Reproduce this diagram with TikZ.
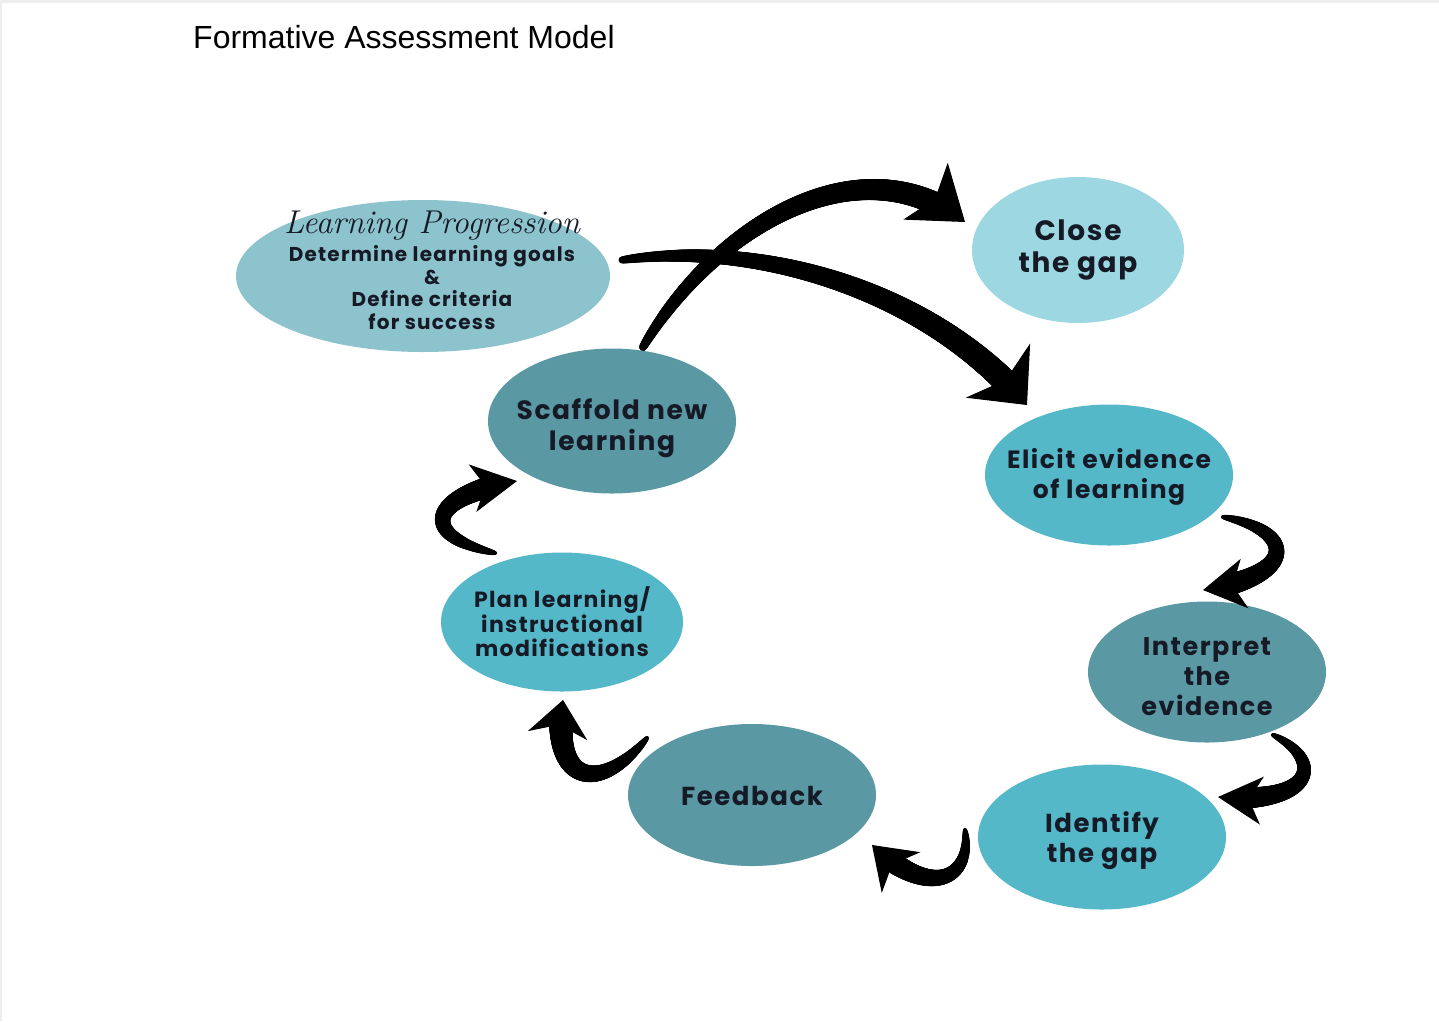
\documentclass[tikz,border=0pt]{standalone}
\usepackage{fontspec}
\newfontfamily\pop[LetterSpace=6]{Poppins}
\newfontfamily\ars{Liberation Sans}
\usetikzlibrary{shapes.geometric,decorations.markings,arrows.meta}
\definecolor{lpc}{HTML}{8DC3CC}
\definecolor{clc}{HTML}{9DD8E2}
\definecolor{dkc}{HTML}{5A98A3}
\definecolor{mdc}{HTML}{55B8C8}
\definecolor{txc}{HTML}{151A26}
\definecolor{edgec}{HTML}{EEEEEE}
\tikzset{
  bub/.style={ellipse, inner sep=0pt, draw=none},
  lbl/.style={align=center, text=txc, inner sep=0pt},
  body/.style n args={3}{%
    black, line width=1pt,
    postaction={decorate, decoration={markings,
      mark=between positions 0 and -#3 step 0.8pt with {%
        \pgfmathsetmacro\rr{#1+(#2-#1)*(\pgfkeysvalueof{/pgf/decoration/mark info/distance from start}/\pgfdecoratedpathlength+0.0001)^0.65}%
        \fill[black] (0pt,0pt) circle[radius=\rr pt];}
    }}}
}
\begin{document}
\begin{tikzpicture}[x=1pt,y=-1pt]
\useasboundingbox (0,0) rectangle (1439,1021);
\fill[white] (0,0) rectangle (1439,1021);
\fill[edgec] (0,0) rectangle (1439,3);
\fill[edgec] (0,0) rectangle (1.5,1021);

\node[anchor=base west, inner sep=0pt, font=\ars\fontsize{32}{36}\selectfont, text=black] (title) at (193,48) {Formative Assessment Model};

\node[bub, fill=lpc, minimum width=374, minimum height=152,
  label={[lbl, xshift=9pt, yshift=6pt, font=\pop\bfseries\fontsize{20}{22.5}\selectfont]center:{{\rmfamily\mdseries\itshape\fontsize{33}{33}\selectfont Learning Progression}\\[5pt]
   Determine learning goals\\ \&\\ Define criteria\\ for success}}] (lp) at (423,276) {};
\node[bub, fill=clc, minimum width=212, minimum height=146,
  label={[lbl, font=\pop\bfseries\fontsize{28}{32}\selectfont]center:{Close\\ the gap}}] (close) at (1078,250) {};
\node[bub, fill=dkc, minimum width=248, minimum height=145,
  label={[lbl, yshift=-7pt, font=\pop\bfseries\fontsize{26.5}{31}\selectfont]center:{Scaffold new\\ learning}}] (scaf) at (612,421) {};
\node[bub, fill=mdc, minimum width=248, minimum height=141,
  label={[lbl, yshift=-2pt, font=\pop\bfseries\fontsize{25}{30}\selectfont]center:{Elicit evidence\\ of learning}}] (elic) at (1109,475) {};
\node[bub, fill=dkc, minimum width=238, minimum height=141,
  label={[lbl, yshift=-5pt, font=\pop\bfseries\fontsize{25.5}{30}\selectfont]center:{Interpret\\ the\\ evidence}}] (intp) at (1207,672) {};
\node[bub, fill=mdc, minimum width=248, minimum height=145,
  label={[lbl, yshift=-4pt, font=\pop\bfseries\fontsize{26}{30}\selectfont]center:{Identify\\ the gap}}] (iden) at (1102,837) {};
\node[bub, fill=dkc, minimum width=248, minimum height=142,
  label={[lbl, yshift=-1pt, font=\pop\bfseries\fontsize{26}{30}\selectfont]center:{Feedback}}] (feed) at (752,795) {};
\node[bub, fill=mdc, minimum width=242, minimum height=139,
  label={[lbl, font=\pop\bfseries\fontsize{22}{24.5}\selectfont]center:{Plan learning/\\ instructional\\ modifications}}] (plan) at (562,622) {};

% arrow end points
\coordinate (a1s) at (643,347); \coordinate (a1e) at (965,222);
\coordinate (a2s) at (622,260); \coordinate (a2e) at (1027,405);
\coordinate (a3s) at (1223,517); \coordinate (a3e) at (1203,590);
\coordinate (a4s) at (1273,735); \coordinate (a4e) at (1218,797);
\coordinate (a5s) at (965,830); \coordinate (a5e) at (872,845);
\coordinate (a6s) at (647,738); \coordinate (a6e) at (563,700);
\coordinate (a7s) at (495,553); \coordinate (a7e) at (517,481);

\draw[body={4}{12}{40pt}, -{Stealth[length=50pt,width=72pt,inset=12pt]}] (a1s) .. controls (715,225) and (860,140) .. (a1e);
\draw[body={3.5}{13}{36pt}, -{Stealth[length=45pt,width=84pt,inset=12pt]}] (a2s) .. controls (760,240) and (930,290) .. (a2e);
\draw[body={2}{12}{32pt}, -{Stealth[length=42pt,width=50pt,inset=12pt]}] (a3s) .. controls (1295,530) and (1300,575) .. (a3e);
\draw[body={2}{12}{33pt}, -{Stealth[length=44pt,width=48pt,inset=13pt]}] (a4s) .. controls (1325,760) and (1315,805) .. (a4e);
\draw[body={2}{12}{30pt}, -{Stealth[length=40pt,width=56pt,inset=12pt]}] (a5s) .. controls (972,880) and (930,900) .. (a5e);
\draw[body={2}{13}{27pt}, -{Stealth[length=36pt,width=60pt,inset=11pt]}] (a6s) .. controls (600,795) and (550,785) .. (a6e);
\draw[body={2}{12}{34pt}, -{Stealth[length=45pt,width=48pt,inset=13pt]}] (a7s) .. controls (415,535) and (430,495) .. (a7e);
\end{tikzpicture}
\end{document}
